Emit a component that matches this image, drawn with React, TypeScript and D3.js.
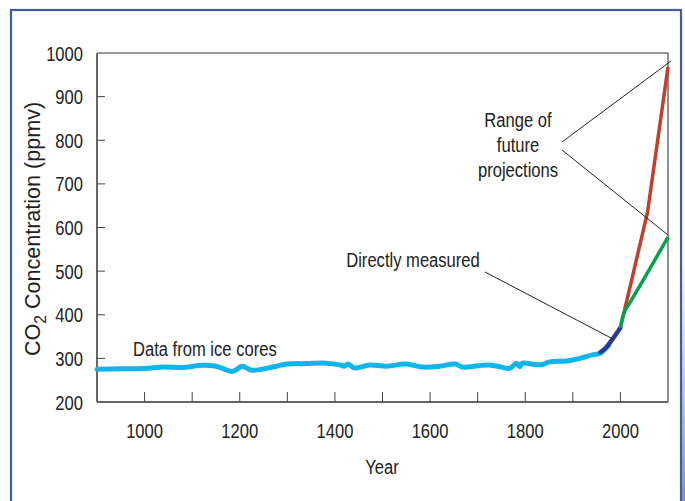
import React from "react";
import * as d3 from "d3";

const iceYears = [900, 950, 1000, 1040, 1080, 1120, 1150, 1185, 1205, 1225, 1260, 1300, 1340, 1382, 1410, 1420, 1427, 1441, 1473, 1508, 1550, 1584, 1620, 1652, 1669, 1700, 1725, 1750, 1767, 1782, 1788, 1794, 1820, 1836, 1851, 1887, 1914, 1941, 1958, 1975];
const iceValues = [275, 276, 277, 280, 279, 284, 282, 270, 282, 273, 278, 287, 288, 289, 285, 282, 287, 278, 285, 282, 287, 280, 282, 287, 280, 283, 285, 280, 277, 289, 281, 289, 286, 286, 292, 294, 300, 308, 312, 330];

const measuredYears = [1958, 1970, 1980, 1990, 2000];
const measuredValues = [314, 325, 339, 354, 370];

const highYears = [2000, 2057, 2100];
const highValues = [370, 635, 968];

const lowYears = [2000, 2004, 2010, 2020, 2100];
const lowValues = [370, 392, 410, 428, 578];

const xTicks = [1000, 1100, 1200, 1300, 1400, 1500, 1600, 1700, 1800, 1900, 2000];
const xTickLabels = [1000, 1200, 1400, 1600, 1800, 2000];
const yTicks = [200, 300, 400, 500, 600, 700, 800, 900, 1000];

const FONT = "'Liberation Sans', Arial, sans-serif";
const SX = 0.79;

function T({ x, y, anchor = "start", size = 21, children }: any) {
  return (
    <text
      transform={`translate(${x},${y}) scale(${SX},1)`}
      textAnchor={anchor}
      fontFamily={FONT}
      fontSize={size}
      fill="#222"
    >
      {children}
    </text>
  );
}

export default function App() {
  const left = 97, right = 668, top = 53, bottom = 402;
  const x = d3.scaleLinear().domain([900, 2100]).range([left, right]);
  const y = d3.scaleLinear().domain([200, 1000]).range([bottom, top]);

  const mk = (xs: number[], vs: number[], curve: any = d3.curveCatmullRom) =>
    d3.line<number>().x((_, i) => x(xs[i])).y((v) => y(v)).curve(curve)(vs) || "";

  return (
    <svg width={685} height={501} style={{ position: "absolute", left: 0, top: 0, background: "#fff" }}>
      <defs>
        <linearGradient id="edge" x1="0" y1="0" x2="0" y2="1">
          <stop offset="0" stopColor="#ffffff" />
          <stop offset="1" stopColor="#7f96c4" />
        </linearGradient>
      </defs>
      <rect x={0} y={0} width={685} height={501} fill="#fff" />
      <rect x={682} y={250} width={3} height={251} fill="url(#edge)" />
      <rect x={11} y={10} width={670} height={500} fill="none" stroke="#3d5e9f" strokeWidth={2.2} />

      {/* plot frame */}
      <line x1={left} y1={top} x2={right} y2={top} stroke="#777" strokeWidth={1.5} />
      <line x1={right} y1={top} x2={right} y2={bottom} stroke="#222" strokeWidth={1} />
      <line x1={left} y1={top} x2={left} y2={bottom} stroke="#666" strokeWidth={2} />
      <line x1={left} y1={bottom} x2={right} y2={bottom} stroke="#666" strokeWidth={2} />

      {xTicks.map((t) => (
        <line key={"xt" + t} x1={x(t)} x2={x(t)} y1={bottom} y2={bottom - 10} stroke="#444" strokeWidth={1} />
      ))}
      {yTicks.slice(1, -1).map((t) => (
        <line key={"yt" + t} x1={left} x2={left + 8} y1={y(t)} y2={y(t)} stroke="#444" strokeWidth={1} />
      ))}
      {xTickLabels.map((t) => (
        <T key={"xl" + t} x={x(t)} y={438} anchor="middle">{t}</T>
      ))}
      {yTicks.map((t) => (
        <T key={"yl" + t} x={83} y={y(t) + 7.5} anchor="end">{t}</T>
      ))}
      <T x={382} y={474} anchor="middle">Year</T>
      <text transform="translate(40,229) rotate(-90) scale(0.98,1)" textAnchor="middle" fontFamily={FONT} fontSize={22} fill="#222">
        CO<tspan dy={6} fontSize={16}>2</tspan><tspan dy={-6}> Concentration (ppmv)</tspan>
      </text>

      {/* data */}
      <path d={mk(iceYears, iceValues)} fill="none" stroke="#12b4ec" strokeWidth={5} strokeLinecap="round" strokeLinejoin="round" />
      <path d={mk(measuredYears, measuredValues)} fill="none" stroke="#2b3a96" strokeWidth={4.5} strokeLinecap="round" />
      <path d={mk(highYears, highValues, d3.curveLinear)} fill="none" stroke="#c0402c" strokeWidth={3.5} />
      <path d={mk(lowYears, lowValues, d3.curveMonotoneX)} fill="none" stroke="#05a24c" strokeWidth={3.5} />

      {/* annotations */}
      <T x={133} y={356}>Data from ice cores</T>
      <T x={413} y={267} anchor="middle">Directly measured</T>
      <line x1={485} y1={272} x2={613} y2={339} stroke="#222" strokeWidth={1} />
      <T x={518} y={127} anchor="middle">Range of</T>
      <T x={518} y={152} anchor="middle">future</T>
      <T x={518} y={177} anchor="middle">projections</T>
      <line x1={562} y1={142} x2={671} y2={61} stroke="#222" strokeWidth={1} />
      <line x1={562} y1={150} x2={668} y2={235} stroke="#222" strokeWidth={1} />
    </svg>
  );
}
